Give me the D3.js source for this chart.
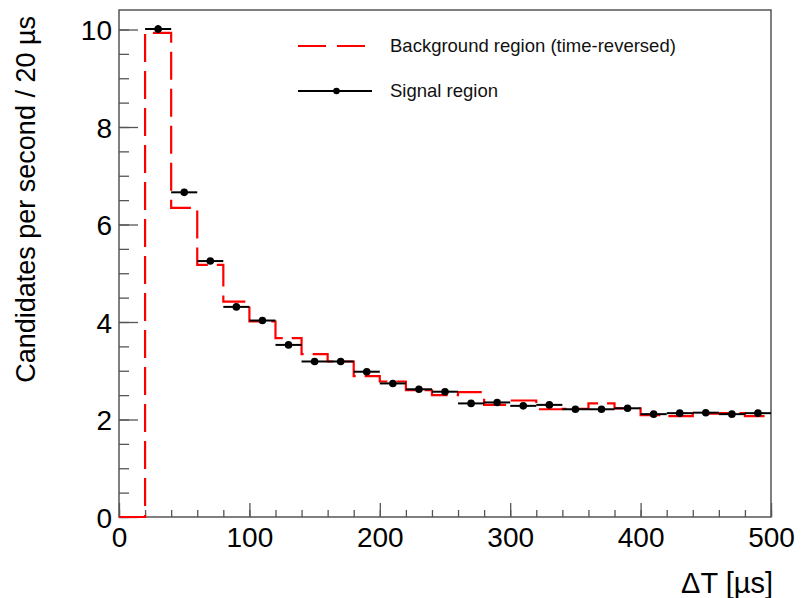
<!DOCTYPE html>
<html>
<head>
<meta charset="utf-8">
<script src="https://cdn.jsdelivr.net/npm/d3@7"></script>
<style>
  html, body { margin: 0; padding: 0; background: #fff; }
  svg { display: block; font-family: "Liberation Sans", Arial, Helvetica, sans-serif; }
</style>
</head>
<body>
<svg id="chart" width="801" height="598"></svg>
<script>
// ΔT histogram: 20 µs bins from 0 to 500 µs
const binEdges = d3.range(0, 501, 20);
// Background region (time-reversed), one value per bin starting at 0 µs
const backgroundRate = [0, 9.93, 6.34, 5.17, 4.42, 4.01, 3.67, 3.34, 3.19, 2.89,
                        2.78, 2.60, 2.50, 2.56, 2.30, 2.39, 2.21, 2.22, 2.33, 2.23,
                        2.09, 2.07, 2.12, 2.13, 2.07];
// Signal region, bin centres 30 .. 490 µs
const signalCenters = d3.range(30, 500, 20);
const signalRate = [10.01, 6.66, 5.25, 4.31, 4.03, 3.53, 3.19, 3.19, 2.98, 2.74,
                    2.62, 2.57, 2.33, 2.35, 2.28, 2.30, 2.21, 2.21, 2.23, 2.11,
                    2.13, 2.14, 2.11, 2.13];
const signalErr = [0.08, 0.07, 0.06, 0.06, 0.06, 0.05, 0.05, 0.05, 0.05, 0.05,
                   0.05, 0.05, 0.05, 0.05, 0.05, 0.05, 0.05, 0.05, 0.05, 0.05,
                   0.05, 0.05, 0.05, 0.05];
const xTicks = [0, 100, 200, 300, 400, 500];
const yTicks = [0, 2, 4, 6, 8, 10];
const legendLabels = ["Background region (time-reversed)", "Signal region"];

const svg = d3.select("#chart");
const margin = { left: 119, top: 10, right: 30, bottom: 81 };
const W = 801, H = 598;
const x = d3.scaleLinear().domain([0, 500]).range([margin.left, W - margin.right]);
const y = d3.scaleLinear().domain([0, 10.4]).range([H - margin.bottom, margin.top]);

const axisColor = "#555";

// Minor and major ticks (inside the frame)
const xAxisMinor = d3.axisBottom(x).tickValues(d3.range(0, 501, 20)).tickSize(-7).tickFormat("");
const xAxisMajor = d3.axisBottom(x).tickValues(xTicks).tickSize(-14).tickFormat(d3.format("d")).tickPadding(9);
const yAxisMinor = d3.axisLeft(y).tickValues(d3.range(0, 10.41, 0.5)).tickSize(-10).tickFormat("");
const yAxisMajor = d3.axisLeft(y).tickValues(yTicks).tickSize(-19).tickFormat(d3.format("d")).tickPadding(7);

function styleAxis(g) {
  g.select(".domain").remove();
  g.selectAll(".tick line").attr("stroke", axisColor).attr("stroke-width", 1.3);
  g.selectAll(".tick text").attr("fill", "#000").style("font-size", "28px")
    .style("font-family", "'Liberation Sans', Arial, sans-serif");
}

svg.append("g").attr("transform", `translate(0,${y(0)})`).call(xAxisMinor).call(styleAxis);
const gx = svg.append("g").attr("transform", `translate(0,${y(0)})`).call(xAxisMajor).call(styleAxis);
gx.selectAll(".tick text").attr("y", 30).attr("dy", 0);
svg.append("g").attr("transform", `translate(${x(0)},0)`).call(yAxisMinor).call(styleAxis);
const gy = svg.append("g").attr("transform", `translate(${x(0)},0)`).call(yAxisMajor).call(styleAxis);
gy.selectAll(".tick text").attr("x", -7).attr("dy", "0.36em");

// Frame
svg.append("rect")
  .attr("x", x(0)).attr("y", y(10.4))
  .attr("width", x(500) - x(0)).attr("height", y(0) - y(10.4))
  .attr("fill", "none").attr("stroke", axisColor).attr("stroke-width", 1.5);

// Background histogram as a dashed step outline
const stepPts = [[0, 0]];
backgroundRate.forEach((v, i) => {
  stepPts.push([binEdges[i], v]);
  stepPts.push([binEdges[i + 1], v]);
});
const line = d3.line().x(d => x(d[0])).y(d => y(d[1]));
svg.append("path")
  .attr("d", line(stepPts))
  .attr("fill", "none").attr("stroke", "#ff0000").attr("stroke-width", 2.2)
  .attr("stroke-dasharray", "28,9");

// Signal points with error bars
const sig = svg.append("g");
signalCenters.forEach((c, i) => {
  const v = signalRate[i];
  sig.append("line")
    .attr("x1", x(c - 10)).attr("x2", x(c + 10)).attr("y1", y(v)).attr("y2", y(v))
    .attr("stroke", "#000").attr("stroke-width", 2);
  sig.append("line")
    .attr("x1", x(c)).attr("x2", x(c)).attr("y1", y(v - signalErr[i])).attr("y2", y(v + signalErr[i]))
    .attr("stroke", "#000").attr("stroke-width", 2);
  sig.append("circle").attr("cx", x(c)).attr("cy", y(v)).attr("r", 3.8).attr("fill", "#000");
});

// Legend
const leg = svg.append("g");
leg.append("line").attr("x1", 298).attr("x2", 367).attr("y1", 46).attr("y2", 46)
  .attr("stroke", "#ff0000").attr("stroke-width", 2.2).attr("stroke-dasharray", "28,11");
leg.append("text").attr("x", 390).attr("y", 52).style("font-size", "18.5px")
  .attr("fill", "#111").text(legendLabels[0]);
leg.append("line").attr("x1", 298).attr("x2", 372).attr("y1", 91).attr("y2", 91)
  .attr("stroke", "#000").attr("stroke-width", 2);
leg.append("circle").attr("cx", 336.5).attr("cy", 91).attr("r", 3.3).attr("fill", "#000");
leg.append("text").attr("x", 390).attr("y", 97).style("font-size", "18.5px")
  .attr("fill", "#111").text(legendLabels[1]);

// Axis titles
svg.append("text")
  .attr("x", x(500) + 2).attr("y", 593)
  .attr("text-anchor", "end").style("font-size", "29px").attr("fill", "#000")
  .text("ΔT [µs]");
svg.append("text")
  .attr("transform", `translate(35,16) rotate(-90)`)
  .attr("text-anchor", "end").style("font-size", "27px").attr("fill", "#000")
  .text("Candidates per second / 20 µs");
</script>
</body>
</html>
